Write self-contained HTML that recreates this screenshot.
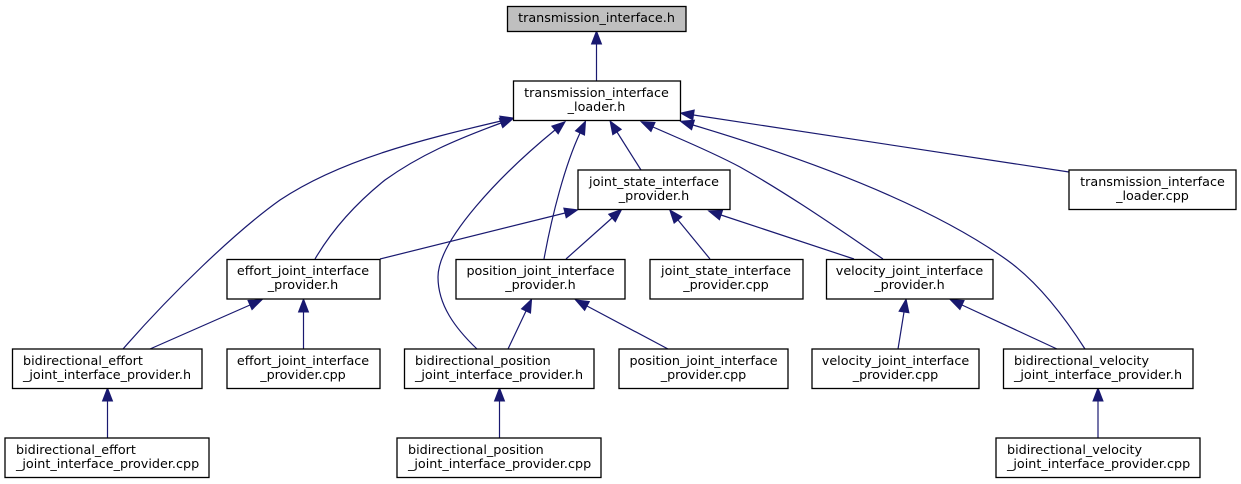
<!DOCTYPE html>
<html>
<head>
<meta charset="utf-8">
<style>
html,body{margin:0;padding:0;background:#fff;width:1241px;height:484px;overflow:hidden}
svg{display:block}
text{font-family:"DejaVu Sans",sans-serif;font-size:12.75px;fill:#000}
.m{text-anchor:middle}
rect{fill:#fff;stroke:#000;stroke-width:1.3}
.e{fill:none;stroke:#191970;stroke-width:1.2}
.a{fill:#191970;stroke:#191970;stroke-width:1}
</style>
</head>
<body>
<svg width="1241" height="484" viewBox="0 0 1241 484" xmlns="http://www.w3.org/2000/svg">
<defs>
<marker id="h" markerUnits="userSpaceOnUse" markerWidth="16" markerHeight="14" refX="0" refY="7" orient="auto" overflow="visible">
<polygon class="a" points="0,2 13,7 0,12"/>
</marker>
</defs>

<!-- edges -->
<path class="e" marker-end="url(#h)" d="M596.5,81 L596.5,44"/>
<path class="e" marker-end="url(#h)" d="M123,349 C170,295 235,232 280,200 C340,160 420,140 501,121"/>
<path class="e" marker-end="url(#h)" d="M315,259 C335,225 360,200 385,180 C420,155 455,140 501,123"/>
<path class="e" marker-end="url(#h)" d="M477,349 C455,328 438,305 438,277 C438,240 500,175 555,130"/>
<path class="e" marker-end="url(#h)" d="M544,259 C552,215 565,165 580,133"/>
<path class="e" marker-end="url(#h)" d="M641,170 L617,132"/>
<path class="e" marker-end="url(#h)" d="M883,259 C840,230 790,195 740,167 C710,151 680,139 653,127"/>
<path class="e" marker-end="url(#h)" d="M1085,349 C1062,313 1035,280 1007,260 C930,205 810,160 693,125"/>
<path class="e" marker-end="url(#h)" d="M1069,172 L693.5,115"/>
<path class="e" marker-end="url(#h)" d="M380,259 L565,213"/>
<path class="e" marker-end="url(#h)" d="M566,259 L612,218"/>
<path class="e" marker-end="url(#h)" d="M710,259 L678,220"/>
<path class="e" marker-end="url(#h)" d="M854,259 L721,215"/>
<path class="e" marker-end="url(#h)" d="M150,349 L250,305"/>
<path class="e" marker-end="url(#h)" d="M303.5,349 L303.5,312"/>
<path class="e" marker-end="url(#h)" d="M508,349 L526,311"/>
<path class="e" marker-end="url(#h)" d="M668,349 L587,306"/>
<path class="e" marker-end="url(#h)" d="M898,349 L904,312"/>
<path class="e" marker-end="url(#h)" d="M1057,349 L962,305"/>
<path class="e" marker-end="url(#h)" d="M107.5,438 L107.5,401"/>
<path class="e" marker-end="url(#h)" d="M499.5,438 L499.5,401"/>
<path class="e" marker-end="url(#h)" d="M1098,438 L1098,401"/>

<!-- nodes -->
<rect x="507.5" y="6.5" width="178.5" height="25" style="fill:#bfbfbf"/>
<text class="m" x="596.5" y="22">transmission_interface.h</text>

<rect x="513.5" y="81" width="167" height="39.5"/>
<text class="m" x="596.5" y="97">transmission_interface</text>
<text class="m" x="596.5" y="111">_loader.h</text>

<rect x="578" y="170" width="152" height="39.5"/>
<text class="m" x="654" y="186">joint_state_interface</text>
<text class="m" x="654" y="200">_provider.h</text>

<rect x="1069" y="170" width="167" height="39.5"/>
<text class="m" x="1152.5" y="186">transmission_interface</text>
<text class="m" x="1152.5" y="200">_loader.cpp</text>

<rect x="227" y="259.5" width="153" height="39.5"/>
<text class="m" x="303" y="275">effort_joint_interface</text>
<text class="m" x="303" y="289">_provider.h</text>

<rect x="456" y="259.5" width="169" height="39.5"/>
<text class="m" x="540.5" y="275">position_joint_interface</text>
<text class="m" x="540.5" y="289">_provider.h</text>

<rect x="650" y="259.5" width="153" height="39.5"/>
<text class="m" x="726" y="275">joint_state_interface</text>
<text class="m" x="726" y="289">_provider.cpp</text>

<rect x="826.5" y="259.5" width="166.5" height="39.5"/>
<text class="m" x="909.5" y="275">velocity_joint_interface</text>
<text class="m" x="909.5" y="289">_provider.h</text>

<rect x="12.5" y="349" width="189.5" height="39.5"/>
<text x="23" y="365">bidirectional_effort</text>
<text x="23" y="379">_joint_interface_provider.h</text>

<rect x="227" y="349" width="153" height="39.5"/>
<text class="m" x="303" y="365">effort_joint_interface</text>
<text class="m" x="303" y="379">_provider.cpp</text>

<rect x="404.5" y="349" width="189.5" height="39.5"/>
<text x="415" y="365">bidirectional_position</text>
<text x="415" y="379">_joint_interface_provider.h</text>

<rect x="619" y="349" width="169" height="39.5"/>
<text class="m" x="703.5" y="365">position_joint_interface</text>
<text class="m" x="703.5" y="379">_provider.cpp</text>

<rect x="812" y="349" width="167" height="39.5"/>
<text class="m" x="895.5" y="365">velocity_joint_interface</text>
<text class="m" x="895.5" y="379">_provider.cpp</text>

<rect x="1003.5" y="349" width="189.5" height="39.5"/>
<text x="1014" y="365">bidirectional_velocity</text>
<text x="1014" y="379">_joint_interface_provider.h</text>

<rect x="5" y="438" width="204" height="39.5"/>
<text x="16" y="454">bidirectional_effort</text>
<text x="16" y="468">_joint_interface_provider.cpp</text>

<rect x="397" y="438" width="204" height="39.5"/>
<text x="408" y="454">bidirectional_position</text>
<text x="408" y="468">_joint_interface_provider.cpp</text>

<rect x="996" y="438" width="204" height="39.5"/>
<text x="1007" y="454">bidirectional_velocity</text>
<text x="1007" y="468">_joint_interface_provider.cpp</text>
</svg>
</body>
</html>
